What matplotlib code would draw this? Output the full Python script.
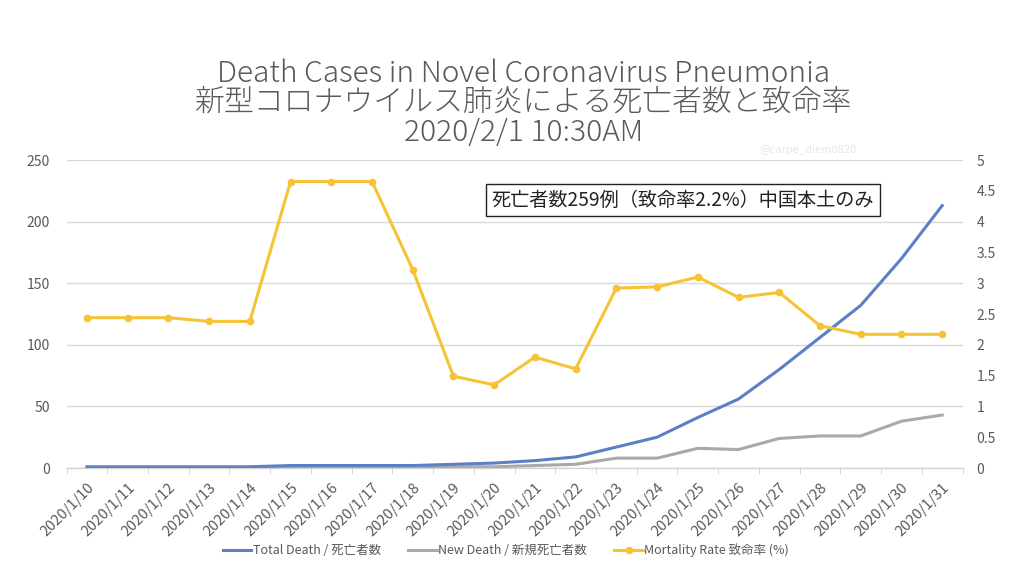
import matplotlib.pyplot as plt
import numpy as np

plt.rcParams['font.family'] = ['Noto Sans CJK JP', 'DejaVu Sans']

# data
dates = ['2020/1/%d' % d for d in range(10, 32)]
total_death = [1, 1, 1, 1, 1, 2, 2, 2, 2, 3, 4, 6, 9, 17, 25, 41, 56, 80, 106, 132, 170, 213]
new_death = [0, 0, 0, 0, 0, 1, 0, 0, 0, 1, 1, 2, 3, 8, 8, 16, 15, 24, 26, 26, 38, 43]
mortality = [2.44, 2.44, 2.44, 2.38, 2.38, 4.65, 4.65, 4.65, 3.22, 1.49, 1.35, 1.80, 1.61,
             2.92, 2.94, 3.10, 2.77, 2.85, 2.31, 2.17, 2.17, 2.17]

blue = '#5B80C6'
gray = '#A9A9A9'
yellow = '#F6C335'
txt = '#595959'

fig = plt.figure(figsize=(10.24, 5.76), dpi=100)
ax = fig.add_axes([0.065, 0.1875, 0.875, 0.5347])
ax2 = ax.twinx()

x = np.arange(len(dates))
l1, = ax.plot(x, total_death, color=blue, lw=2.2, label='Total Death / 死亡者数', zorder=3)
l2, = ax.plot(x, new_death, color=gray, lw=2.2, label='New Death / 新規死亡者数', zorder=2)
l3, = ax2.plot(x, mortality, color=yellow, lw=2.2, marker='o', markersize=4.5,
               label='Mortality Rate 致命率 (%)', zorder=3)

ax.set_xlim(-0.5, len(dates) - 0.5)
ax.set_ylim(0, 250)
ax.set_yticks(np.arange(0, 251, 50))
ax2.set_ylim(0, 5)
ax2.set_yticks(np.arange(0, 5.01, 0.5))
ax2.set_yticklabels(['%g' % v for v in np.arange(0, 5.01, 0.5)])

ax.set_xticks(x)
ax.set_xticklabels(dates, rotation=45, ha='right', rotation_mode='anchor')
ax.set_xticks(np.arange(-0.5, len(dates), 1), minor=True)
ax.tick_params(axis='x', which='major', length=0, labelsize=10.5, labelcolor=txt, pad=9)
ax.tick_params(axis='x', which='minor', length=4, color='#D0D0D0')
ax.tick_params(axis='y', length=0, labelsize=10, labelcolor=txt, pad=12)
ax2.tick_params(axis='y', length=0, labelsize=10, labelcolor=txt, pad=10)

ax.grid(True, axis='y', color='#D9D9D9', lw=1)
ax.set_axisbelow(True)
for a in (ax, ax2):
    for s in ('top', 'left', 'right'):
        a.spines[s].set_visible(False)
    a.spines['bottom'].set_color('#D0D0D0')

# title, three lines
title_lines = ['Death Cases in Novel Coronavirus Pneumonia',
               '新型コロナウイルス肺炎による死亡者数と致命率',
               '2020/2/1 10:30AM']
for yy, line in zip([0.872, 0.822, 0.770], title_lines):
    fig.text(0.511, yy, line, ha='center', va='center',
             fontsize=21.5, color=txt, fontweight='light')

fig.text(0.789, 0.739, '@carpe_diem0820', ha='center', va='center', fontsize=8, color='#E6E6E6')

ax.text(0.474, 0.87, '死亡者数259例（致命率2.2%）中国本土のみ', transform=ax.transAxes,
        ha='left', va='center', fontsize=13.8, color='#222222',
        bbox=dict(boxstyle='square,pad=0.3', facecolor='white', edgecolor='#222222', lw=1))

fig.legend(handles=[l1, l2, l3], loc='center', bbox_to_anchor=(0.494, 0.045), ncol=3,
           frameon=False, fontsize=9, labelcolor=txt, handlelength=2.3, columnspacing=2.2,
           handletextpad=0.1)

plt.savefig('out.png', dpi=100)
